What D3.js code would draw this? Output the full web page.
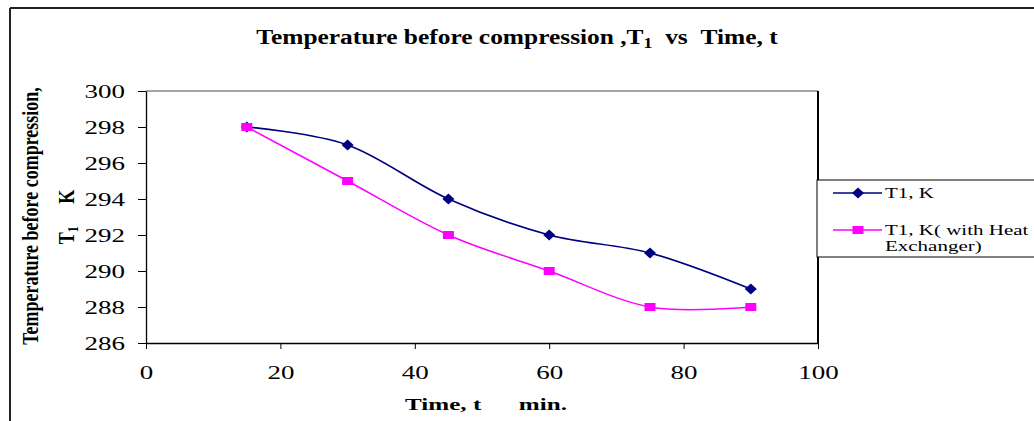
<!DOCTYPE html>
<html>
<head>
<meta charset="utf-8">
<script src="https://cdn.jsdelivr.net/npm/d3@7/dist/d3.min.js"></script>
<style>
  html, body { margin: 0; padding: 0; background: #fff; }
  svg { display: block; }
  text { font-family: "Liberation Serif", "Times New Roman", serif; }
</style>
</head>
<body>
<svg id="chart" width="1034" height="421"></svg>
<script>
const times = [15, 30, 45, 60, 75, 90];
const seriesT1 = [298, 297, 294, 292, 291, 289];
const seriesT1HX = [298, 295, 292, 290, 288, 288];
const xTicks = [0, 20, 40, 60, 80, 100];
const yTicks = [286, 288, 290, 292, 294, 296, 298, 300];
const seriesNames = ["T1,  K", "T1, K( with Heat", "Exchanger)"];

(function () {
const svg = d3.select("#chart");
const pLeft = 146, pRight = 818, pTop = 91, pBottom = 343;
const SX = 1.42; // horizontal stretch of the original picture's text

function fitWidth(sel, cx, w) {
  const node = sel.node();
  const bb = node.getBBox();
  const s = w / bb.width;
  sel.attr("transform", `translate(${cx},0) scale(${s},1) translate(${-cx},0)`);
}
function stretch(sel, cx, s) {
  sel.attr("transform", `translate(${cx},0) scale(${s},1) translate(${-cx},0)`);
}

// outer border (top & left visible)
svg.append("line").attr("x1", 10).attr("x2", 1034).attr("y1", 8).attr("y2", 8)
  .attr("stroke", "#222").attr("stroke-width", 2);
svg.append("line").attr("x1", 10).attr("x2", 10).attr("y1", 8).attr("y2", 421)
  .attr("stroke", "#222").attr("stroke-width", 2);

const x = d3.scaleLinear().domain([0, 100]).range([pLeft, pRight]);
const y = d3.scaleLinear().domain([286, 300]).range([pBottom, pTop]);

// plot area border
svg.append("line").attr("x1", pLeft).attr("x2", pRight).attr("y1", pTop).attr("y2", pTop)
  .attr("stroke", "#888").attr("stroke-width", 1.5);
svg.append("line").attr("x1", pRight).attr("x2", pRight).attr("y1", pTop).attr("y2", pBottom)
  .attr("stroke", "#000").attr("stroke-width", 2);

// axes
const xAxis = svg.append("g").attr("transform", `translate(0,${pBottom})`)
  .call(d3.axisBottom(x).tickValues(xTicks).tickSize(6).tickSizeOuter(0).tickPadding(17));
const yAxis = svg.append("g").attr("transform", `translate(${pLeft},0)`)
  .call(d3.axisLeft(y).tickValues(yTicks).tickSize(8).tickSizeOuter(0));
[xAxis, yAxis].forEach(g => {
  g.select(".domain").attr("stroke", "#000").attr("stroke-width", 1.3);
  g.selectAll(".tick line").attr("stroke", "#000");
  g.selectAll(".tick text").attr("font-family", "Liberation Serif, serif")
    .attr("font-size", 19).attr("fill", "#000");
});
xAxis.selectAll(".tick text").attr("transform", `scale(${SX},1)`);
yAxis.selectAll(".tick text").attr("x", -21 / SX).attr("transform", `scale(${SX},1)`);

// lines
const line = d3.line().x(d => x(d[0])).y(d => y(d[1])).curve(d3.curveCardinal.tension(0));
const d1 = times.map((t, i) => [t, seriesT1[i]]);
const d2 = times.map((t, i) => [t, seriesT1HX[i]]);
const navy = "#000080", pink = "#FF00FF";

svg.append("path").datum(d2).attr("d", line).attr("fill", "none").attr("stroke", pink).attr("stroke-width", 1.5);
svg.append("path").datum(d1).attr("d", line).attr("fill", "none").attr("stroke", navy).attr("stroke-width", 1.7);

const diamondPath = "M0,-5.5L6,0L0,5.5L-6,0Z";
svg.append("g").selectAll("path").data(d1).join("path")
  .attr("d", diamondPath).attr("transform", d => `translate(${x(d[0])},${y(d[1])})`).attr("fill", navy);
svg.append("g").selectAll("rect").data(d2).join("rect")
  .attr("x", d => x(d[0]) - 5.5).attr("y", d => y(d[1]) - 4).attr("width", 11).attr("height", 8).attr("fill", pink);

// title
const title = svg.append("text").attr("x", 517).attr("y", 44).attr("text-anchor", "middle")
  .attr("font-weight", "bold").attr("font-size", 20).attr("fill", "#000");
title.append("tspan").text("Temperature before compression ,T");
title.append("tspan").attr("font-size", 14).attr("dy", 4).text("1");
title.append("tspan").attr("dy", -4).text("\u00a0\u00a0vs\u00a0\u00a0Time, t");
fitWidth(title, 517, 522);

// x axis title
const xt = svg.append("text").attr("x", 486).attr("y", 410).attr("text-anchor", "middle")
  .attr("font-weight", "bold").attr("font-size", 17).attr("fill", "#000")
  .text("Time, t\u00a0\u00a0\u00a0\u00a0\u00a0\u00a0min.");
fitWidth(xt, 486, 162);

// y axis title
svg.append("text").attr("transform", "translate(38,216) scale(1.3,1) rotate(-90)").attr("text-anchor", "middle")
  .attr("font-weight", "bold").attr("font-size", 18).attr("fill", "#000")
  .text("Temperature before compression,");
const yt2 = svg.append("text").attr("transform", "translate(74,217) scale(1.3,1) rotate(-90)").attr("text-anchor", "middle")
  .attr("font-weight", "bold").attr("font-size", 18).attr("fill", "#000");
yt2.append("tspan").text("T");
yt2.append("tspan").attr("font-size", 12).attr("dy", 3).text("1");
yt2.append("tspan").attr("dy", -3).text("\u00a0\u00a0\u00a0\u00a0\u00a0K");

// legend
const lg = svg.append("g");
lg.append("rect").attr("x", 817).attr("y", 180).attr("width", 240).attr("height", 77)
  .attr("fill", "#fff").attr("stroke", "#000").attr("stroke-width", 1);
lg.append("line").attr("x1", 833).attr("x2", 882).attr("y1", 193).attr("y2", 193).attr("stroke", navy).attr("stroke-width", 1.5);
lg.append("path").attr("d", diamondPath).attr("transform", "translate(858,193)").attr("fill", navy);
const lt1 = lg.append("text").attr("x", 885).attr("y", 198).attr("font-size", 15).attr("fill", "#000").text(seriesNames[0]);
lg.append("line").attr("x1", 833).attr("x2", 882).attr("y1", 230).attr("y2", 230).attr("stroke", pink).attr("stroke-width", 1.5);
lg.append("rect").attr("x", 852.5).attr("y", 226).attr("width", 11).attr("height", 8).attr("fill", pink);
const lt2 = lg.append("text").attr("x", 885).attr("y", 235).attr("font-size", 15).attr("fill", "#000").text(seriesNames[1]);
const lt3 = lg.append("text").attr("x", 885).attr("y", 251).attr("font-size", 15).attr("fill", "#000").text(seriesNames[2]);
[lt1, lt2, lt3].forEach(t => stretch(t, 885, 1.4));
})();
</script>
</body>
</html>
